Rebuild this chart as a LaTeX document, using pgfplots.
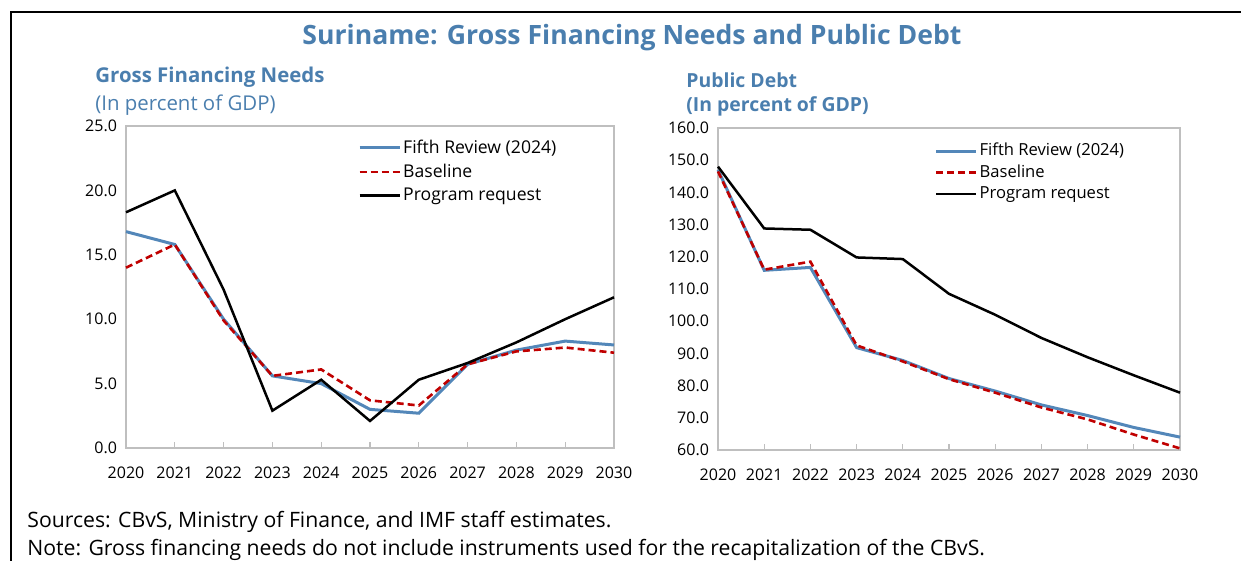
\documentclass[border=0pt]{standalone}
\usepackage{pgfplots}
\pgfplotsset{compat=1.18}
\usepackage{fontspec}
\setmainfont{Open Sans}
\definecolor{ttl}{HTML}{4A7EAE}
\definecolor{fifth}{HTML}{5387B9}
\definecolor{base}{HTML}{C00000}
\definecolor{axgrey}{HTML}{BFBFBF}
\pgfplotsset{
  myaxis/.style={
    scale only axis,
    xmin=2020, xmax=2030,
    xtick={2020,...,2030},
    axis line style={axgrey, line width=0.6pt},
    tick align=inside,
    xtick pos=bottom,
    ytick pos=left,
    xtick style={axgrey, line width=0.6pt},
    ytick style={draw=none},
    major tick length=3pt,
    tick label style={font=\fontsize{8}{9.5}\selectfont},
    /pgf/number format/assume math mode=true,
    xticklabel style={/pgf/number format/1000 sep={}, yshift=-6pt},
    yticklabel style={/pgf/number format/fixed, /pgf/number format/fixed zerofill, /pgf/number format/precision=1, xshift=-1pt},
    legend cell align=left,
    legend image code/.code={\draw[##1] (0pt,0pt) -- (20pt,0pt);},
    clip=false,
  }
}
\pgfplotstableread{
year fifth base prog
2020 16.8 14.0 18.3
2021 15.8 15.8 20.0
2022 10.0 9.9 12.3
2023 5.6 5.6 2.9
2024 5.0 6.1 5.3
2025 3.0 3.7 2.1
2026 2.7 3.3 5.3
2027 6.5 6.5 6.6
2028 7.6 7.5 8.2
2029 8.3 7.8 10.0
2030 8.0 7.4 11.7
}\gfn
\pgfplotstableread{
year fifth base prog
2020 147.0 146.5 148.0
2021 115.8 116.0 128.8
2022 116.7 118.5 128.4
2023 91.8 92.5 119.8
2024 87.8 87.5 119.3
2025 82.2 82.0 108.5
2026 78.3 77.8 102.0
2027 74.0 73.2 94.8
2028 70.7 69.5 88.8
2029 67.0 64.8 83.2
2030 64.0 60.5 77.8
}\debt
\begin{document}
\begin{tikzpicture}
\useasboundingbox (0pt,0pt) rectangle (620.5pt,-280.5pt);
\draw[black, line width=1.2pt] (5.5pt,-280.5pt) -- (5.5pt,-6pt) -- (620.5pt,-6pt);
\node[ttl, font=\fontsize{13.3}{16}\selectfont\bfseries] at (316pt,-19pt) {Suriname: Gross Financing Needs and Public Debt};
\node[ttl, anchor=west, inner sep=0pt, font=\fontsize{10.2}{12}\selectfont\bfseries] at (47.5pt,-38.5pt) {Gross Financing Needs};
\node[ttl, anchor=west, inner sep=0pt, font=\fontsize{10.2}{12}\selectfont] at (47.5pt,-52.5pt) {(In percent of GDP)};
\node[ttl, anchor=west, inner sep=0pt, font=\fontsize{9.7}{11}\selectfont\bfseries] at (343pt,-40pt) {Public Debt};
\node[ttl, anchor=west, inner sep=0pt, font=\fontsize{9.7}{11}\selectfont\bfseries] at (343pt,-53pt) {(In percent of GDP)};
\node[anchor=west, inner sep=0pt, font=\fontsize{10.6}{12}\selectfont] at (13.5pt,-261pt) {Sources: CBvS, Ministry of Finance, and IMF staff estimates.};
\node[anchor=west, inner sep=0pt, font=\fontsize{10.6}{12}\selectfont] at (13.5pt,-275pt) {Note: Gross financing needs do not include instruments used for the recapitalization of the CBvS.};

\begin{axis}[myaxis, at={(63pt,-224pt)}, anchor=south west, width=244pt, height=161pt,
  ymin=0, ymax=25, ytick={0,5,...,25},
  legend style={at={(0.475,0.965)}, anchor=north west, draw=none, fill=none, font=\fontsize{8.8}{10.5}\selectfont, row sep=1.8pt, inner sep=0pt, nodes={inner sep=1pt}}]
\addplot[fifth, line width=1.5pt] table[x=year,y=fifth] {\gfn};
\addplot[base, line width=1.3pt, dash pattern=on 3.5pt off 2pt] table[x=year,y=base] {\gfn};
\addplot[black, line width=1.25pt] table[x=year,y=prog] {\gfn};
\legend{Fifth Review (2024), Baseline, Program request}
\end{axis}

\begin{axis}[myaxis, at={(359pt,-225pt)}, anchor=south west, width=231pt, height=161pt,
  ymin=60, ymax=160, ytick={60,70,...,160},
  legend style={at={(0.468,0.96)}, anchor=north west, draw=none, fill=none, font=\fontsize{8.3}{10}\selectfont, row sep=1pt, inner sep=0pt, nodes={inner sep=1pt}}]
\addplot[fifth, line width=1.5pt] table[x=year,y=fifth] {\debt};
\addplot[base, line width=1.3pt, dash pattern=on 3.5pt off 2pt] table[x=year,y=base] {\debt};
\addplot[black, line width=1.25pt] table[x=year,y=prog] {\debt};
\legend{Fifth Review (2024), Baseline, Program request}
\end{axis}
\end{tikzpicture}
\end{document}
